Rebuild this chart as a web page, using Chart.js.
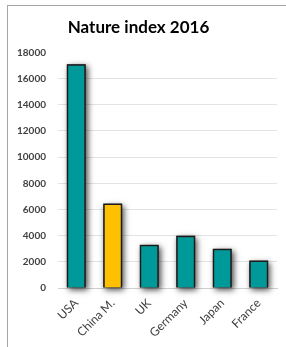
<!DOCTYPE html>
<html>
<head>
<meta charset="utf-8">
<script src="https://cdn.jsdelivr.net/npm/chart.js@4"></script>
<style>
  html, body { margin: 0; padding: 0; background: #fff; }
  .wrap { position: relative; width: 286px; height: 347px; }
  .frame { position: absolute; left: 7px; top: 5px; right: 0; bottom: 0;
           border-top: 1px solid #a6a6a6; border-left: 1px solid #a6a6a6; pointer-events: none; }
  canvas { position: absolute; left: 0; top: 0; }
</style>
</head>
<body>
<div class="wrap">
  <canvas id="chart" width="286" height="347"></canvas>
  <div class="frame"></div>
</div>
<script>
const countries = ['USA', 'China M.', 'UK', 'Germany', 'Japan', 'France'];
const indexValues = [17100, 6450, 3300, 4000, 3000, 2100];
const barColors = ['#009999', '#FFC000', '#009999', '#009999', '#009999', '#009999'];
const yTicks = [0, 2000, 4000, 6000, 8000, 10000, 12000, 14000, 16000, 18000];

// soft drop shadow behind each bar (the bar element clips itself, so paint it first)
const barShadow = {
    id: 'barShadow',
    beforeDatasetsDraw(chart) {
        const ctx = chart.ctx;
        const meta = chart.getDatasetMeta(0);
        ctx.save();
        ctx.shadowColor = 'rgba(0,0,0,0.7)';
        ctx.shadowBlur = 6;
        ctx.shadowOffsetX = 2;
        ctx.shadowOffsetY = 2;
        ctx.fillStyle = '#333';
        meta.data.forEach(bar => {
            const p = bar.getProps(['x', 'y', 'base', 'width'], true);
            ctx.fillRect(p.x - p.width / 2, p.y, p.width, p.base - p.y);
        });
        ctx.restore();
    }
};

new Chart(document.getElementById('chart'), {
    type: 'bar',
    data: {
        labels: countries,
        datasets: [{
            data: indexValues,
            backgroundColor: barColors,
            borderColor: '#1a1a1a',
            borderWidth: 1.5,
            barPercentage: 0.52,
            categoryPercentage: 1
        }]
    },
    options: {
        responsive: false,
        animation: false,
        layout: { padding: { top: 5, right: 9, left: 0, bottom: 0 } },
        plugins: {
            legend: { display: false },
            tooltip: { enabled: false },
            title: {
                display: true,
                text: 'Nature index 2016',
                color: '#000',
                font: { family: 'Lato', size: 17, weight: 'bold' },
                padding: { top: 12, bottom: 15 }
            }
        },
        scales: {
            x: {
                grid: { display: false },
                border: { color: '#d0d0d0' },
                ticks: {
                    color: '#404040',
                    font: { family: 'Lato', size: 12 },
                    maxRotation: 45,
                    minRotation: 45,
                    padding: 0
                },
                afterFit(scale) { scale.height = 59; }
            },
            y: {
                min: 0,
                max: 18000,
                afterBuildTicks(scale) { scale.ticks = yTicks.map(v => ({ value: v })); },
                grid: {
                    color: c => (c.tick && c.tick.value === 18000) ? 'rgba(0,0,0,0)' : '#e3e3e3',
                    drawTicks: false
                },
                border: { display: false },
                ticks: {
                    color: '#404040',
                    font: { family: 'Lato', size: 10, weight: 'bold' },
                    padding: 12,
                    callback: v => String(v)
                },
                afterFit(scale) { scale.width = 58; }
            }
        }
    },
    plugins: [barShadow]
});
</script>
</body>
</html>
